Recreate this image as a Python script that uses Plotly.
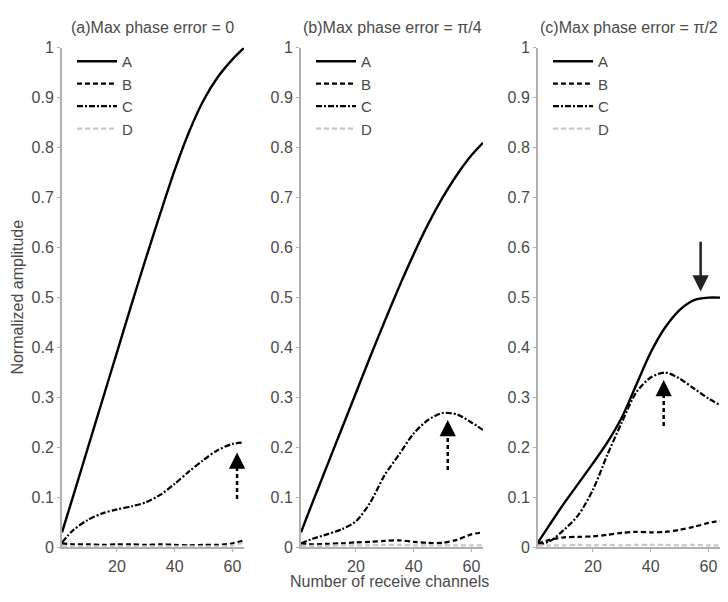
import plotly.graph_objects as go

# Number of receive channels at which the curves are sampled
channels = [1, 5, 10, 15, 20, 25, 30, 35, 40, 45, 50, 55, 60, 64]

# (a) Max phase error = 0
a_A = [0.03, 0.105, 0.200, 0.295, 0.390, 0.485, 0.578, 0.668, 0.755, 0.832, 0.895, 0.942, 0.977, 1.0]
a_B = [0.008, 0.006, 0.006, 0.005, 0.006, 0.006, 0.005, 0.006, 0.005, 0.004, 0.005, 0.005, 0.008, 0.014]
a_C = [0.010, 0.035, 0.055, 0.068, 0.076, 0.082, 0.090, 0.105, 0.127, 0.152, 0.175, 0.195, 0.207, 0.210]
a_D = [0.002, 0.002, 0.002, 0.002, 0.002, 0.002, 0.002, 0.002, 0.002, 0.002, 0.002, 0.002, 0.004, 0.009]

# (b) Max phase error = pi/4
b_A = [0.03, 0.090, 0.163, 0.236, 0.309, 0.382, 0.453, 0.522, 0.587, 0.647, 0.700, 0.746, 0.785, 0.81]
b_B = [0.008, 0.006, 0.007, 0.008, 0.010, 0.011, 0.013, 0.014, 0.011, 0.009, 0.009, 0.015, 0.026, 0.030]
b_C = [0.008, 0.017, 0.026, 0.036, 0.052, 0.090, 0.145, 0.186, 0.228, 0.255, 0.269, 0.266, 0.250, 0.235]
b_D = [0.003, 0.003, 0.003, 0.004, 0.004, 0.004, 0.005, 0.005, 0.004, 0.004, 0.004, 0.004, 0.004, 0.004]

# (c) Max phase error = pi/2
c_A = [0.01, 0.045, 0.088, 0.128, 0.168, 0.210, 0.260, 0.325, 0.390, 0.440, 0.475, 0.495, 0.500, 0.500]
c_B = [0.008, 0.015, 0.020, 0.021, 0.022, 0.025, 0.029, 0.031, 0.030, 0.031, 0.035, 0.041, 0.049, 0.053]
c_C = [0.005, 0.012, 0.035, 0.065, 0.115, 0.185, 0.250, 0.310, 0.340, 0.350, 0.338, 0.318, 0.298, 0.285]
c_D = [0.004, 0.004, 0.004, 0.005, 0.004, 0.005, 0.004, 0.005, 0.005, 0.005, 0.004, 0.005, 0.004, 0.004]

series_names = ["A", "B", "C", "D"]
panel_titles = ["(a)Max phase error = 0", "(b)Max phase error = π/4", "(c)Max phase error = π/2"]
panels = [[a_A, a_B, a_C, a_D], [b_A, b_B, b_C, b_D], [c_A, c_B, c_C, c_D]]

# arrows: (panel, x, tail y, tip y, dashed)
arrows = [
    (0, 61.6, 0.097, 0.190, True),
    (1, 51.8, 0.155, 0.255, True),
    (2, 44.5, 0.243, 0.335, True),
    (2, 57.3, 0.615, 0.512, False),
]

W, H = 728, 602
x_domains = [[62 / W, 244 / W], [301 / W, 483 / W], [538 / W, 720 / W]]
y_domain = [1 - 555 / H, 1 - 41 / H]

FONT = "Liberation Sans, Arial, sans-serif"
TXT = "#4a4a4a"
AXC = "#b0b0b0"

styles = {
    "A": dict(color="black", width=2.4, dash="solid"),
    "B": dict(color="black", width=2.2, dash="5px,3px"),
    "C": dict(color="black", width=2.2, dash="6px,2px,2px,2px"),
    "D": dict(color="#c8c8c8", width=2.2, dash="5px,3px"),
}

fig = go.Figure()
legend_ids = ["legend", "legend2", "legend3"]

for p, curves in enumerate(panels):
    xa = "x" if p == 0 else f"x{p + 1}"
    ya = "y" if p == 0 else f"y{p + 1}"
    for name, vals in zip(series_names, curves):
        fig.add_trace(go.Scatter(
            x=channels, y=vals, mode="lines", name=name,
            line=dict(shape="spline", smoothing=0.8, **styles[name]),
            xaxis=xa, yaxis=ya, legend=legend_ids[p], showlegend=True,
        ))

layout = dict(
    width=W, height=H,
    margin=dict(l=0, r=0, t=0, b=0),
    paper_bgcolor="white", plot_bgcolor="white",
    font=dict(family=FONT, size=16, color=TXT),
)

for p in range(3):
    sfx = "" if p == 0 else str(p + 1)
    layout[f"xaxis{sfx}"] = dict(
        domain=x_domains[p], range=[1, 64], anchor=f"y{sfx}",
        tickvals=[20, 40, 60], ticks="outside", ticklen=3, tickcolor=AXC,
        showline=True, linecolor=AXC, linewidth=2, showgrid=False, zeroline=False,
        tickfont=dict(size=16, color=TXT),
    )
    layout[f"yaxis{sfx}"] = dict(
        domain=y_domain, range=[0, 1], anchor=f"x{sfx}",
        dtick=0.1, ticks="outside", ticklen=3, tickcolor=AXC,
        showline=True, linecolor=AXC, linewidth=2, showgrid=False, zeroline=False,
        tickfont=dict(size=16, color=TXT),
    )
    layout[legend_ids[p]] = dict(
        x=(x_domains[p][0] * W + 10) / W, y=1 - 38 / H,
        xanchor="left", yanchor="top",
        bgcolor="rgba(0,0,0,0)", borderwidth=0, itemwidth=40,
        font=dict(size=15, color=TXT), tracegroupgap=0,
    )

fig.update_layout(**layout)

# panel titles
for p, t in enumerate(panel_titles):
    fig.add_annotation(
        text=t, x=(x_domains[p][0] + x_domains[p][1]) / 2, y=1 - 20 / H,
        xref="paper", yref="paper", showarrow=False,
        font=dict(size=16, color=TXT), xanchor="center", yanchor="middle",
    )

# axis labels
fig.add_annotation(text="Number of receive channels", x=389 / W, y=1 - 590 / H,
                   xref="paper", yref="paper", showarrow=False,
                   font=dict(size=16, color=TXT), xanchor="center", yanchor="middle")
fig.add_annotation(text="Normalized amplitude", x=18 / W, y=1 - 298 / H,
                   xref="paper", yref="paper", showarrow=False, textangle=-90,
                   font=dict(size=16, color=TXT), xanchor="center", yanchor="middle")

# arrows marking the peaks
for p, ax_x, tail, tip, dashed in arrows:
    xr = "x" if p == 0 else f"x{p + 1}"
    yr = "y" if p == 0 else f"y{p + 1}"
    if dashed:
        head_tail = tip - 0.03
        fig.add_shape(type="line", xref=xr, yref=yr, x0=ax_x, x1=ax_x,
                      y0=tail, y1=head_tail,
                      line=dict(color="black", width=2.5, dash="4px,3px"))
        fig.add_annotation(x=ax_x, y=tip, ax=ax_x, ay=head_tail, xref=xr, yref=yr,
                           axref=xr, ayref=yr, text="", showarrow=True,
                           arrowhead=2, arrowsize=1.3, arrowwidth=2.5, arrowcolor="black")
    else:
        fig.add_annotation(x=ax_x, y=tip, ax=ax_x, ay=tail, xref=xr, yref=yr,
                           axref=xr, ayref=yr, text="", showarrow=True,
                           arrowhead=2, arrowsize=1.3, arrowwidth=2.5, arrowcolor="#222")

fig.write_html("out.html")
